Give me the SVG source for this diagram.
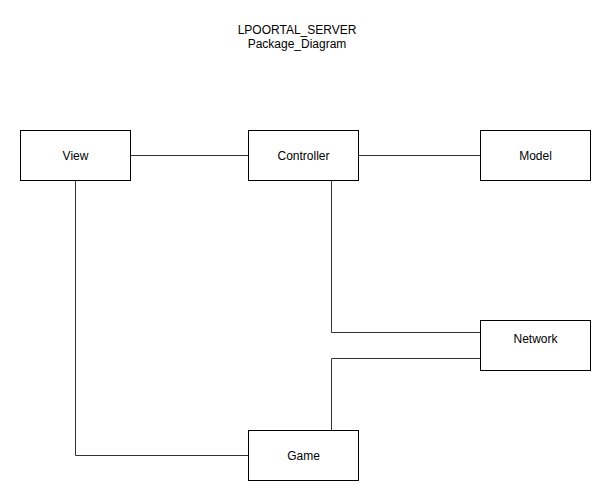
<svg xmlns="http://www.w3.org/2000/svg" width="612" height="501" viewBox="0 0 612 501">
<style>
.box{fill:#fff;stroke:#000;stroke-width:1}
.lbl{font-family:"Liberation Sans",Arial,sans-serif;font-size:12px;fill:#000;text-anchor:middle}
.conn{fill:none;stroke:#333;stroke-width:1}
</style>
<rect width="612" height="501" fill="#fff"/>
<g id="title">
<text class="lbl" x="297" y="34">LPOORTAL_SERVER</text>
<text class="lbl" x="297" y="48">Package_Diagram</text>
</g>
<g id="connectors">
<path class="conn" d="M130.5,155.5H248.5"/>
<path class="conn" d="M358.5,155.5H480.5"/>
<path class="conn" d="M331.5,180.5V332.5H480.5"/>
<path class="conn" d="M480.5,358.5H331.5V430.5"/>
<path class="conn" d="M75.5,180.5V455.5H248.5"/>
</g>
<g id="view"><rect class="box" x="20.5" y="130.5" width="110" height="50"/><text class="lbl" x="75.5" y="160">View</text></g>
<g id="controller"><rect class="box" x="248.5" y="130.5" width="110" height="50"/><text class="lbl" x="303.5" y="160">Controller</text></g>
<g id="model"><rect class="box" x="480.5" y="130.5" width="110" height="50"/><text class="lbl" x="535.5" y="160">Model</text></g>
<g id="network"><rect class="box" x="480.5" y="320.5" width="110" height="50"/><text class="lbl" x="535.5" y="343">Network</text></g>
<g id="game"><rect class="box" x="248.5" y="430.5" width="110" height="50"/><text class="lbl" x="303.5" y="460">Game</text></g>
</svg>
